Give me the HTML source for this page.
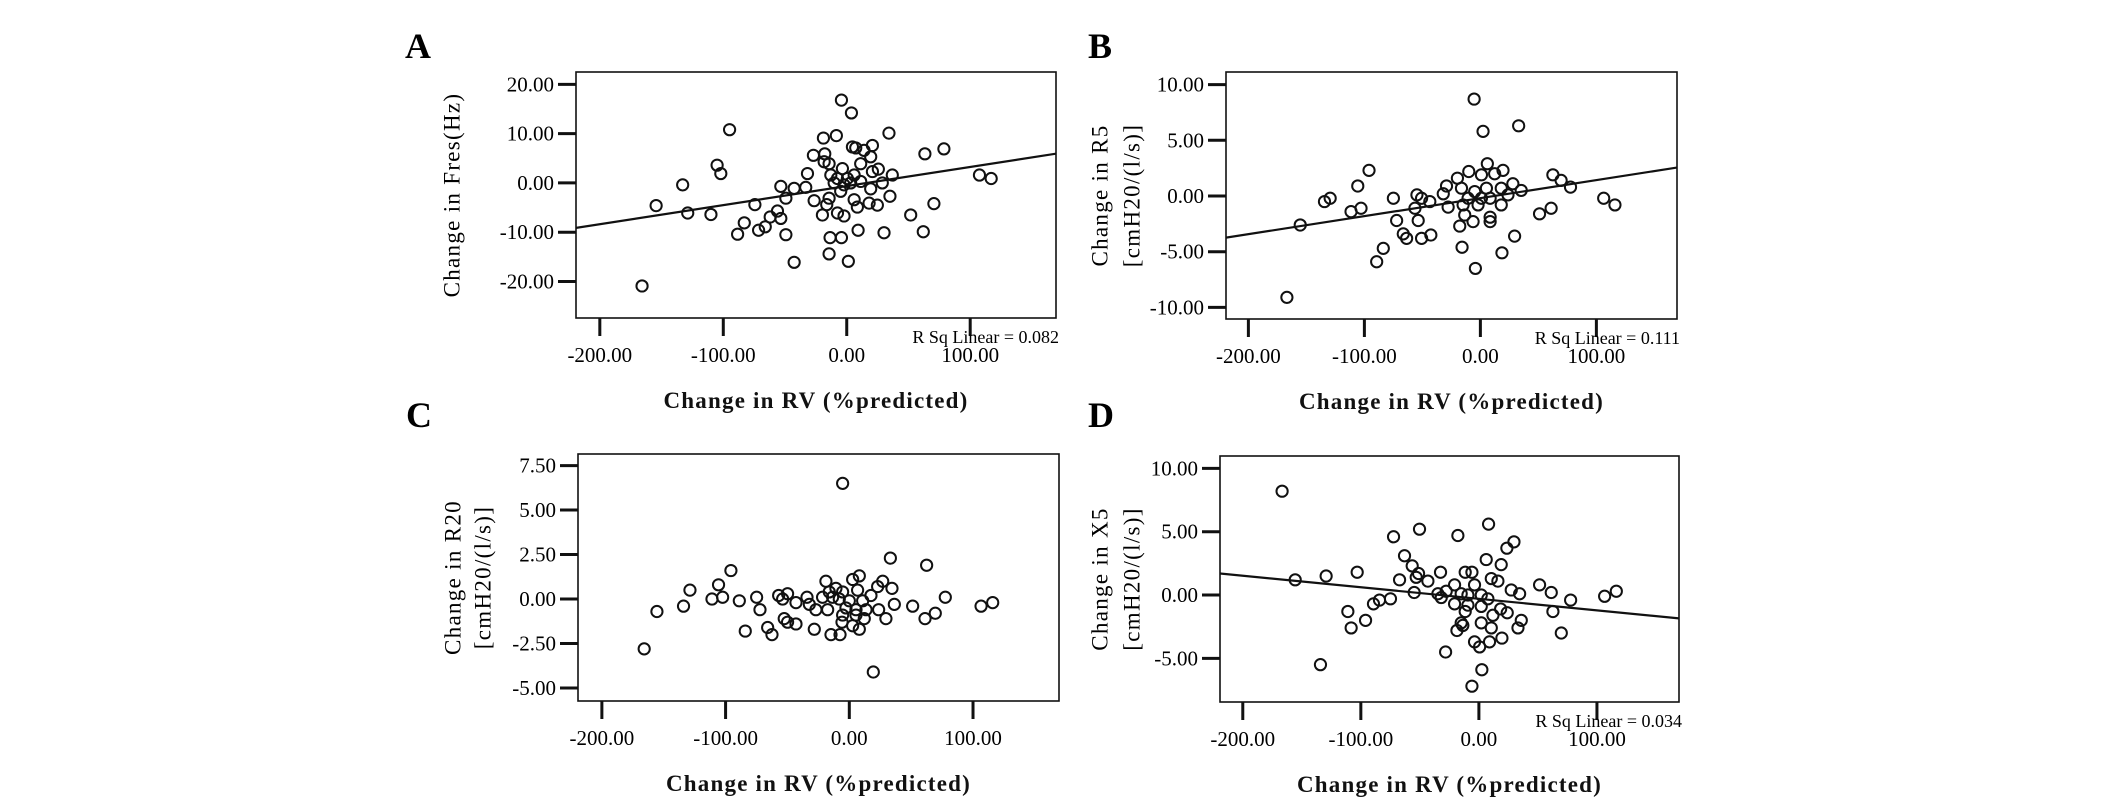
<!DOCTYPE html>
<html><head><meta charset="utf-8"><style>
html,body{margin:0;padding:0;background:#fff;}
svg{display:block;font-family:"Liberation Serif",serif;}
</style></head><body>
<svg id="fig" width="2126" height="803" viewBox="0 0 2126 803" xmlns="http://www.w3.org/2000/svg">
<rect width="2126" height="803" fill="#fff"/>
</svg>
<script>
const xTicks = [-200, -100, 0, 100];
const xTickLabels = ["-200.00", "-100.00", "0.00", "100.00"];

const aYTicks = [20, 10, 0, -10, -20];
const aYTickLabels = ["20.00", "10.00", "0.00", "-10.00", "-20.00"];
const aX = [-4.3,3.8,-94.9,34.2,-8.4,-18.9,20.8,4.6,7.3,14,63.3,78.7,-27,-17.8,19.4,-18.3,-14.3,11.3,-105,-102,25.6,20.8,-3.5,-31.8,36.9,107.5,117,-12.9,-7.5,0.5,6,11.3,-10.2,-2.2,3.2,28.8,-132.9,-53.4,-42.6,-33.2,19.4,-4.9,-49.3,35,-26.4,-14.3,6,18.1,24.8,-16.2,8.6,-154.4,70.6,-74.4,-128.8,-110,-56.1,-62,-53.4,-7.5,-19.7,-2.2,51.8,-83,-66,-71.4,-88.4,-49.3,9.2,30.2,62,-13.5,-4.3,-14.3,-42.6,1.3,-165.8];
const aY = [16.8,14.2,10.8,10.1,9.6,9.1,7.6,7.3,7.1,6.6,5.9,6.9,5.6,5.9,5.3,4.3,3.9,3.9,3.6,1.9,2.8,2.3,2.9,1.9,1.6,1.6,0.9,1.6,0.9,0.9,1.6,0.3,0,-0.4,0,0,-0.4,-0.7,-1.1,-0.9,-1.2,-1.7,-3.1,-2.7,-3.6,-3.1,-3.4,-4.1,-4.5,-4.4,-4.9,-4.6,-4.2,-4.4,-6.1,-6.4,-5.7,-6.9,-7.2,-6.1,-6.5,-6.7,-6.5,-8.1,-8.9,-9.6,-10.4,-10.5,-9.6,-10.1,-9.9,-11.1,-11.1,-14.4,-16.1,-15.9,-20.9];
const aFit = [0.0387, -0.63];

const bYTicks = [10, 5, 0, -5, -10];
const bYTickLabels = ["10.00", "5.00", "0.00", "-5.00", "-10.00"];
const bX = [-5.4,2.3,33,6,19.5,-10,-96,-19.8,12.3,0.9,62.5,69.6,77.7,-105.7,28,35.2,-29.2,-32,-16.3,-4.9,5.2,18,23.8,-54.7,-50.7,-43.6,-75,-129.5,-134.4,-10.6,0.9,8.4,106.3,116,-27.8,-14.9,-2,18,-102.9,-111.5,-56.4,61,51,-13.5,8.4,-6.3,-72.2,-53.6,8.4,-155.3,-17.8,-66.5,-63.6,-50.7,-42.7,29.5,-15.8,18.6,-83.7,-89.4,-4.3,-166.8];
const bY = [8.7,5.8,6.3,2.9,2.3,2.2,2.3,1.6,2,1.9,1.9,1.4,0.8,0.9,1.1,0.5,0.9,0.2,0.7,0.4,0.7,0.7,0.1,0.1,-0.2,-0.5,-0.2,-0.2,-0.5,-0.2,-0.2,-0.2,-0.2,-0.8,-1,-0.8,-0.8,-0.8,-1.1,-1.4,-1.1,-1.1,-1.6,-1.7,-1.9,-2.3,-2.2,-2.2,-2.3,-2.6,-2.7,-3.4,-3.8,-3.8,-3.5,-3.6,-4.6,-5.1,-4.7,-5.9,-6.5,-9.1];
const bFit = [0.01618, -0.19];

const cYTicks = [7.5, 5, 2.5, 0, -2.5, -5];
const cYTickLabels = ["7.50", "5.00", "2.50", "0.00", "-2.50", "-5.00"];
const cX = [-5.4,33.2,62.5,-95.7,8.1,2.7,-105.7,-128.8,-18.9,27,22.9,34.5,-10.8,-16.2,-5.4,6.7,17.5,77.6,-49.9,-57.1,-74.9,-111,-102.4,-88.9,-53.9,-34.2,-43.1,-21.6,-13.5,-8.1,0,10.8,36.4,115.9,106.5,51.2,-134,-32.3,-27,-72.2,-17.5,-2.7,5.4,13.5,23.7,-155.5,69.5,61.2,29.6,-5.4,5.4,12.1,-52.6,-49.9,-43.1,-5.9,2.7,-28.3,-66,-62.5,-84.1,-14.8,-7.5,8.1,-165.8,19.4];
const cY = [6.5,2.3,1.9,1.6,1.3,1.1,0.8,0.5,1,1,0.7,0.6,0.6,0.4,0.4,0.5,0.2,0.1,0.3,0.2,0.1,0,0.1,-0.1,0,0.1,-0.2,0.1,0.1,0,-0.1,-0.1,-0.3,-0.2,-0.4,-0.4,-0.4,-0.3,-0.6,-0.6,-0.6,-0.5,-0.6,-0.6,-0.6,-0.7,-0.8,-1.1,-1.1,-0.9,-0.9,-1.1,-1.1,-1.3,-1.4,-1.3,-1.5,-1.7,-1.6,-2,-1.8,-2,-2,-1.7,-2.8,-4.1];

const dYTicks = [10, 5, 0, -5];
const dYTickLabels = ["10.00", "5.00", "0.00", "-5.00"];
const dX = [-166.7,8.2,-50.3,-72.3,-17.8,29.7,23.7,-63,6.2,18.9,-56.5,-32.5,-11.6,-5.9,-51.1,-103.1,-129.4,-155.6,-67.2,-53.1,-43.2,10.5,16.1,-20.6,-3.7,51.4,27.4,34.5,61.3,106.5,116.4,-54.8,-34.7,-27.7,-15,-9.3,2,7.6,-31.9,-74.9,-84.2,-89.3,77.7,-20.6,-9.3,2,18.4,24,62.7,-111,-11.6,11.9,35.9,33.1,-96,2,-15,-108.2,-13.6,10.5,-18.6,69.8,19.5,-3.7,0.6,9,-28.2,-134.2,2.5,-5.9];
const dY = [8.2,5.6,5.2,4.6,4.7,4.2,3.7,3.1,2.8,2.4,2.3,1.8,1.8,1.8,1.7,1.8,1.5,1.2,1.2,1.4,1.1,1.3,1.1,0.8,0.8,0.8,0.4,0.1,0.2,-0.1,0.3,0.2,0.1,0.3,0.1,0,0,-0.3,-0.2,-0.3,-0.4,-0.7,-0.4,-0.7,-0.8,-0.9,-1.1,-1.4,-1.3,-1.3,-1.3,-1.6,-2,-2.6,-2,-2.2,-2.2,-2.6,-2.4,-2.6,-2.8,-3,-3.4,-3.7,-4.1,-3.7,-4.5,-5.5,-5.9,-7.2];
const dFit = [-0.00913, -0.30];

const NS = "http://www.w3.org/2000/svg";
const svg = document.getElementById("fig");
function mk(tag, attrs, parent, text) {
  const e = document.createElementNS(NS, tag);
  for (const k in attrs) e.setAttribute(k, attrs[k]);
  if (text !== undefined) e.textContent = text;
  (parent || svg).appendChild(e);
  return e;
}

function panel(cfg) {
  const g = mk("g", {});
  
  
  const L = cfg.box[0], T = cfg.box[1], R = cfg.box[2], B = cfg.box[3];
  const xd = [-219.3, 169.5];
  const sx = v => L + (v - xd[0]) / (xd[1] - xd[0]) * (R - L);
  const sy = v => T + (cfg.yd[1] - v) / (cfg.yd[1] - cfg.yd[0]) * (B - T);

  const lab = mk("text", {x: cfg.letter[0], y: cfg.letter[1], "font-size": 36, "font-weight": "bold"}, g, cfg.id.toUpperCase());
  
  

  const box = mk("rect", {x: L, y: T, width: R - L, height: B - T, fill: "none", stroke: "#111", "stroke-width": 1.6}, g);
  
  

  cfg.yTicks.forEach((v, i) => {
    const y = sy(v);
    const t = mk("line", {x1: L - 18, x2: L, y1: y, y2: y, stroke: "#111", "stroke-width": 3}, g);
    
    
    const tl = mk("text", {x: L - 22, y: y + 7, "font-size": 21, "text-anchor": "end"}, g, cfg.yLabels[i]);
    
    
  });
  xTicks.forEach((v, i) => {
    const x = sx(v);
    const t = mk("line", {x1: x, x2: x, y1: B, y2: B + 18, stroke: "#111", "stroke-width": 3}, g);
    
    
    const tl = mk("text", {x: x, y: B + 44, "font-size": 21, "text-anchor": "middle"}, g, xTickLabels[i]);
    
    
  });

  const xt = mk("text", {x: (L + R) / 2, y: B + 90, "font-size": 23, "text-anchor": "middle", "letter-spacing": 1.2, "font-weight": "bold", fill: "#111"}, g, "Change in RV (%predicted)");
  
  

  const cy = (T + B) / 2;
  cfg.yTitle.forEach((line, i) => {
    const x = L - cfg.yTitleOff[i];
    const yt = mk("text", {x: x, y: cy, "font-size": 23, "text-anchor": "middle", "letter-spacing": 1.3, transform: "rotate(-90 " + x + " " + cy + ")", "dominant-baseline": "central"}, g, line);
    
    
  });

  const clipId = "clip-" + cfg.id;
  const cp = mk("clipPath", {id: clipId}, g);
  mk("rect", {x: L, y: T, width: R - L, height: B - T}, cp);

  if (cfg.fit) {
    const x0 = xd[0], x1 = xd[1];
    const fl = mk("line", {x1: sx(x0), y1: sy(cfg.fit[0] * x0 + cfg.fit[1]), x2: sx(x1), y2: sy(cfg.fit[0] * x1 + cfg.fit[1]), stroke: "#111", "stroke-width": 2.2, "clip-path": "url(#" + clipId + ")"}, g);
    
    
  }
  cfg.xs.forEach((xv, i) => {
    const c = mk("circle", {cx: sx(xv), cy: sy(cfg.ys[i]), r: 5.6, fill: "none", stroke: "#111", "stroke-width": 2}, g);
    
    
  });
  if (cfg.rsq) {
    const rs = mk("text", {x: R + 3, y: B + 25, "font-size": 18, "text-anchor": "end"}, g, cfg.rsq);
    
    
  }
}

panel({id: "a", box: [576, 72, 1056, 318], yd: [-27.4, 22.5], letter: [405, 58], yTicks: aYTicks, yLabels: aYTickLabels, xs: aX, ys: aY, fit: aFit, rsq: "R Sq Linear = 0.082", yTitle: ["Change in Fres(Hz)"], yTitleOff: [124]});
panel({id: "b", box: [1226, 72, 1677, 319], yd: [-11.04, 11.13], letter: [1088, 58], yTicks: bYTicks, yLabels: bYTickLabels, xs: bX, ys: bY, fit: bFit, rsq: "R Sq Linear = 0.111", yTitle: ["Change in R5", "[cmH20/(l/s)]"], yTitleOff: [126, 94]});
panel({id: "c", box: [578, 454, 1059, 701], yd: [-5.73, 8.15], letter: [406, 427], yTicks: cYTicks, yLabels: cYTickLabels, xs: cX, ys: cY, fit: null, rsq: null, yTitle: ["Change in R20", "[cmH20/(l/s)]"], yTitleOff: [125, 95]});
panel({id: "d", box: [1220, 456, 1679, 702], yd: [-8.45, 10.98], letter: [1088, 427], yTicks: dYTicks, yLabels: dYTickLabels, xs: dX, ys: dY, fit: dFit, rsq: "R Sq Linear = 0.034", yTitle: ["Change in X5", "[cmH20/(l/s)]"], yTitleOff: [120, 88]});
</script>
</body></html>
